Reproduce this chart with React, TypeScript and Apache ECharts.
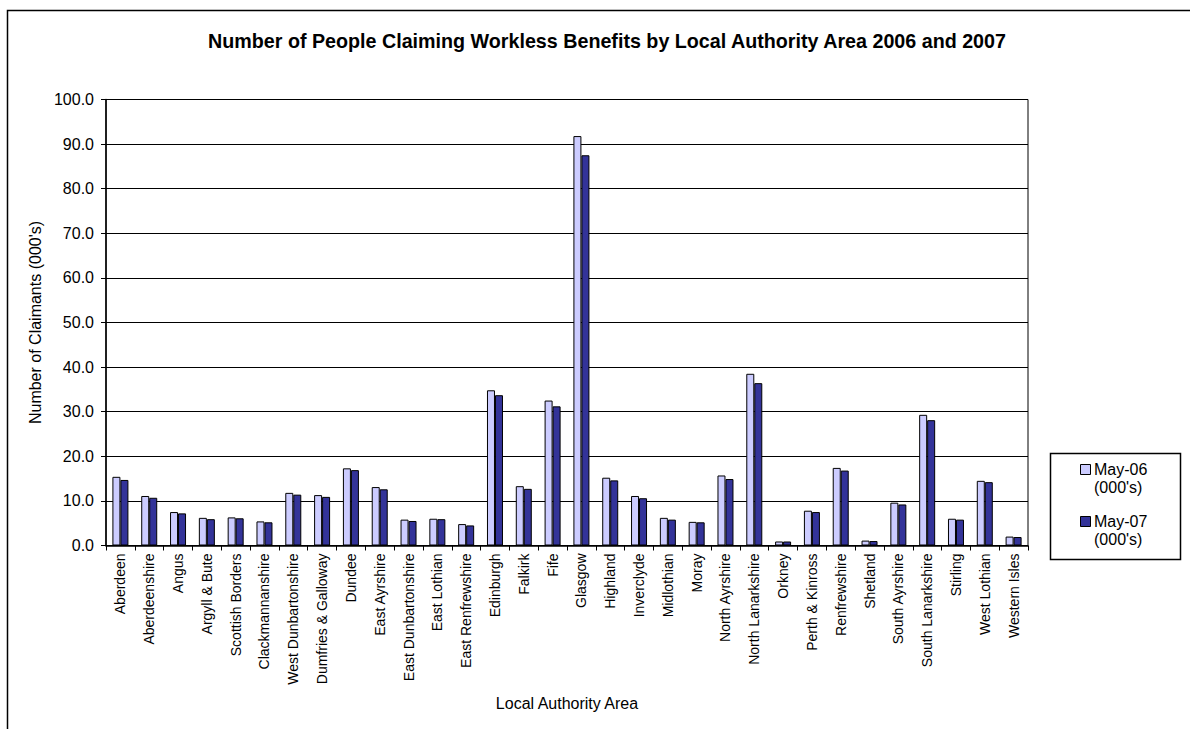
import React, { useEffect, useRef } from "react";
import * as echarts from "echarts";

const categories = [
  "Aberdeen", "Aberdeenshire", "Angus", "Argyll & Bute", "Scottish Borders",
  "Clackmannanshire", "West Dunbartonshire", "Dumfries & Galloway", "Dundee",
  "East Ayrshire", "East Dunbartonshire", "East Lothian", "East Renfrewshire",
  "Edinburgh", "Falkirk", "Fife", "Glasgow", "Highland", "Inverclyde",
  "Midlothian", "Moray", "North Ayrshire", "North Lanarkshire", "Orkney",
  "Perth & Kinross", "Renfrewshire", "Shetland", "South Ayrshire",
  "South Lanarkshire", "Stirling", "West Lothian", "Western Isles",
];

const may06 = [
  15.4, 11.1, 7.5, 6.2, 6.3, 5.4, 11.8, 11.3, 17.3, 13.1, 5.8, 6.0, 4.8,
  34.8, 13.3, 32.5, 91.8, 15.2, 11.1, 6.2, 5.3, 15.7, 38.5, 0.9, 7.8, 17.4,
  1.1, 9.6, 29.3, 6.0, 14.5, 2.0,
];

const may07 = [
  14.7, 10.7, 7.2, 5.9, 6.1, 5.2, 11.4, 10.9, 16.9, 12.6, 5.5, 5.9, 4.5,
  33.7, 12.7, 31.2, 87.5, 14.6, 10.6, 5.8, 5.2, 14.9, 36.4, 0.9, 7.5, 16.8,
  1.0, 9.2, 28.1, 5.8, 14.2, 1.9,
];

const seriesNames = ["May-06 (000's)", "May-07 (000's)"];
const seriesColors = ["#CCCCFF", "#333399"];

const FONT = "'Liberation Sans', Arial, sans-serif";

export default function App() {
  const ref = useRef<HTMLDivElement>(null);

  useEffect(() => {
    if (!ref.current) return;
    const chart = echarts.init(ref.current, undefined, { renderer: "svg" });

    const legendItems: any[] = [];
    seriesNames.forEach((name, i) => {
      const parts = name.split(" ");
      const cy = 470 + i * 52;
      legendItems.push({
        type: "rect",
        shape: { x: 1080.5, y: cy - 5.5, width: 10, height: 10 },
        style: { fill: seriesColors[i], stroke: "#000", lineWidth: 1 },
      });
      legendItems.push({
        type: "text",
        x: 1094,
        y: cy - 10,
        style: {
          text: parts[0] + "\n" + parts[1],
          font: `16px ${FONT}`,
          fill: "#000",
          lineHeight: 18,
          textAlign: "left",
          textVerticalAlign: "top",
        },
      });
    });

    chart.setOption({
      animation: false,
      backgroundColor: "#fff",
      textStyle: { fontFamily: FONT },
      title: {
        text: "Number of People Claiming Workless Benefits by Local Authority Area 2006 and 2007",
        left: 602,
        top: 26,
        textAlign: "center",
        textStyle: { fontSize: 19.7, fontWeight: "bold", color: "#000", fontFamily: FONT },
      },
      grid: {
        left: 106,
        right: 162,
        top: 99.5,
        bottom: 183.5,
        show: true,
        borderColor: "#000",
        borderWidth: 1,
        backgroundColor: "transparent",
      },
      xAxis: {
        type: "category",
        data: categories,
        name: "Local Authority Area",
        nameLocation: "middle",
        nameGap: 150,
        nameTextStyle: { fontSize: 16, color: "#000", fontFamily: FONT },
        axisLine: { lineStyle: { color: "#000", width: 1.5 } },
        axisTick: { show: true, length: 5, lineStyle: { color: "#000" } },
        axisLabel: {
          rotate: 90,
          fontSize: 14,
          color: "#000",
          margin: 8,
          interval: 0,
          fontFamily: FONT,
        },
      },
      yAxis: {
        type: "value",
        min: 0,
        max: 100,
        interval: 10,
        name: "Number of Claimants (000's)",
        nameLocation: "middle",
        nameGap: 63,
        nameTextStyle: { fontSize: 16, color: "#000", fontFamily: FONT },
        axisLine: { show: true, lineStyle: { color: "#000", width: 1.5 } },
        axisTick: { show: true, length: 5, lineStyle: { color: "#000" } },
        axisLabel: {
          fontSize: 16,
          color: "#000",
          margin: 12,
          fontFamily: FONT,
          formatter: (v: number) => v.toFixed(1),
        },
        splitLine: { show: true, lineStyle: { color: "#000", width: 1 } },
      },
      legend: { show: false },
      series: [
        {
          name: seriesNames[0],
          type: "bar",
          data: may06,
          barWidth: 8,
          barGap: "0%",
          itemStyle: { color: seriesColors[0], borderColor: "#000", borderWidth: 1 },
        },
        {
          name: seriesNames[1],
          type: "bar",
          data: may07,
          barWidth: 8,
          barGap: "0%",
          itemStyle: { color: seriesColors[1], borderColor: "#000", borderWidth: 1 },
        },
      ],
      graphic: [
        {
          type: "rect",
          shape: { x: 7.5, y: 10.5, width: 1300, height: 900 },
          style: { fill: "none", stroke: "#000", lineWidth: 1.5 },
          silent: true,
        },
        {
          type: "rect",
          shape: { x: 1050.5, y: 453.5, width: 130, height: 106 },
          style: { fill: "#fff", stroke: "#000", lineWidth: 1.5 },
        },
        ...legendItems,
      ],
    });

    return () => chart.dispose();
  }, []);

  return (
    <div
      ref={ref}
      style={{ position: "fixed", left: 0, top: 0, width: 1190, height: 729 }}
    />
  );
}
